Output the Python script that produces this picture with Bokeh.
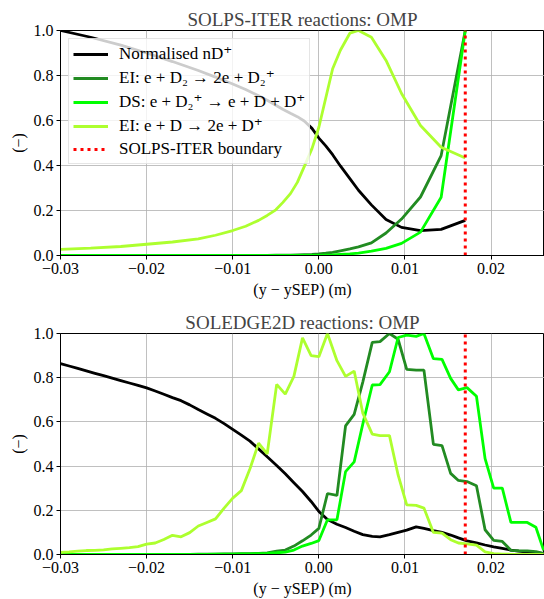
from bokeh.plotting import figure
from bokeh.layouts import column
from bokeh.models import FixedTicker, Range1d, Legend, LegendItem
from bokeh.embed import file_html
from bokeh.resources import INLINE

# ---------------- data ----------------
solps_x = [-0.0300, -0.0265, -0.0230, -0.0200, -0.0170, -0.0140, -0.0120, -0.0100, -0.0085, -0.0070,
           -0.0060, -0.0050, -0.0042, -0.0033, -0.0025, -0.0017, -0.0008, 0.0000, 0.0008, 0.0016,
           0.0025, 0.0036, 0.0046, 0.0061, 0.0078, 0.0096, 0.0118, 0.0142, 0.0170]
solps_n = [1.000, 0.970, 0.935, 0.900, 0.862, 0.822, 0.793, 0.762, 0.738, 0.710,
           0.690, 0.668, 0.650, 0.632, 0.617, 0.598, 0.565, 0.522, 0.487, 0.448,
           0.398, 0.342, 0.290, 0.225, 0.160, 0.125, 0.111, 0.116, 0.156]
solps_ei_d2 = [0.000, 0.000, 0.000, 0.000, 0.000, 0.000, 0.000, 0.001, 0.001, 0.001,
               0.001, 0.002, 0.002, 0.002, 0.003, 0.004, 0.005, 0.007, 0.010, 0.014,
               0.021, 0.029, 0.038, 0.056, 0.100, 0.162, 0.260, 0.444, 1.000]
solps_ds = [0.000, 0.000, 0.000, 0.000, 0.000, 0.000, 0.000, 0.000, 0.000, 0.000,
            0.000, 0.000, 0.000, 0.000, 0.000, 0.001, 0.001, 0.001, 0.002, 0.003,
            0.005, 0.007, 0.011, 0.019, 0.032, 0.054, 0.104, 0.259, 1.000]
solps_ei_d = [0.027, 0.033, 0.040, 0.050, 0.060, 0.074, 0.090, 0.111, 0.130, 0.156,
              0.178, 0.203, 0.235, 0.275, 0.325, 0.395, 0.475, 0.570, 0.700, 0.830,
              0.912, 0.988, 1.000, 0.970, 0.867, 0.720, 0.578, 0.481, 0.433]

soledge_x = [-0.0300, -0.0290, -0.0280, -0.0270, -0.0260, -0.0250, -0.0240, -0.0230, -0.0220, -0.0210,
             -0.0200, -0.0190, -0.0180, -0.0170, -0.0160, -0.0150, -0.0140, -0.0130, -0.0120, -0.0110,
             -0.0100, -0.0090, -0.0080, -0.0070, -0.0060, -0.0049, -0.0039, -0.0029, -0.0019, -0.0009,
             0.0000, 0.0010, 0.0021, 0.0031, 0.0041, 0.0051, 0.0062, 0.0071, 0.0082, 0.0092,
             0.0102, 0.0113, 0.0122, 0.0133, 0.0143, 0.0153, 0.0162, 0.0172, 0.0183, 0.0193,
             0.0203, 0.0213, 0.0223, 0.0232, 0.0242, 0.0252, 0.0261]
soledge_n = [0.864, 0.853, 0.842, 0.831, 0.820, 0.809, 0.798, 0.787, 0.776, 0.765,
             0.754, 0.740, 0.725, 0.710, 0.696, 0.677, 0.656, 0.636, 0.616, 0.592,
             0.566, 0.540, 0.513, 0.478, 0.442, 0.403, 0.365, 0.325, 0.285, 0.240,
             0.195, 0.158, 0.137, 0.122, 0.105, 0.090, 0.082, 0.080, 0.090, 0.100,
             0.110, 0.125, 0.118, 0.108, 0.100, 0.088, 0.075, 0.062, 0.053, 0.043,
             0.035, 0.028, 0.020, 0.015, 0.011, 0.008, 0.004]
soledge_ei_d2 = [0.000, 0.000, 0.000, 0.000, 0.000, 0.000, 0.000, 0.000, 0.000, 0.000,
                 0.000, 0.001, 0.001, 0.001, 0.001, 0.001, 0.002, 0.002, 0.002, 0.003,
                 0.003, 0.004, 0.004, 0.005, 0.007, 0.015, 0.020, 0.038, 0.062, 0.088,
                 0.118, 0.276, 0.267, 0.582, 0.634, 0.780, 0.960, 0.963, 1.000, 0.974,
                 0.838, 0.834, 0.834, 0.498, 0.493, 0.367, 0.335, 0.330, 0.311, 0.112,
                 0.064, 0.059, 0.019, 0.017, 0.016, 0.013, 0.005]
soledge_ds = [0.000, 0.000, 0.000, 0.000, 0.000, 0.000, 0.000, 0.000, 0.000, 0.000,
              0.000, 0.000, 0.000, 0.000, 0.001, 0.001, 0.001, 0.001, 0.002, 0.002,
              0.002, 0.003, 0.003, 0.004, 0.005, 0.008, 0.011, 0.020, 0.038, 0.050,
              0.063, 0.157, 0.157, 0.375, 0.419, 0.590, 0.767, 0.769, 0.827, 0.982,
              0.993, 0.987, 1.000, 0.886, 0.883, 0.797, 0.745, 0.755, 0.716, 0.434,
              0.300, 0.300, 0.145, 0.145, 0.145, 0.123, 0.019]
soledge_ei_d = [0.010, 0.012, 0.015, 0.018, 0.019, 0.021, 0.025, 0.028, 0.031, 0.036,
                0.047, 0.052, 0.068, 0.087, 0.080, 0.099, 0.129, 0.145, 0.161, 0.210,
                0.255, 0.289, 0.388, 0.504, 0.455, 0.770, 0.726, 0.806, 0.980, 0.900,
                0.895, 1.000, 0.877, 0.806, 0.830, 0.640, 0.545, 0.538, 0.538, 0.360,
                0.225, 0.222, 0.210, 0.100, 0.097, 0.067, 0.052, 0.048, 0.042, 0.012,
                0.004, 0.002, 0.001, 0.000, 0.000, 0.000, 0.000]

solps_boundary = 0.017
boundary_y = [0.0, 1.0]

x_ticks = [-0.03, -0.02, -0.01, 0.0, 0.01, 0.02]
x_tick_labels = ["\u22120.03", "\u22120.02", "\u22120.01", "0.00", "0.01", "0.02"]
y_ticks = [0.0, 0.2, 0.4, 0.6, 0.8, 1.0]
y_tick_labels = ["0.0", "0.2", "0.4", "0.6", "0.8", "1.0"]

series_labels = ["Normalised nD\u207a",
                 "EI: e + D\u2082 \u2192 2e + D\u2082\u207a",
                 "DS: e + D\u2082\u207a \u2192 e + D + D\u207a",
                 "EI: e + D \u2192 2e + D\u207a",
                 "SOLPS-ITER boundary"]
series_colors = ["black", "#228b22", "#00ff00", "#adff2f"]
boundary_color = "red"

titles = ["SOLPS-ITER reactions: OMP", "SOLEDGE2D reactions: OMP"]
x_label = "(y \u2212 ySEP) (m)"
y_label = "(\u2212)"

FONT = "'Liberation Serif', 'DejaVu Serif', serif"


def make_fig(title, height, top_border, bottom_border):
    p = figure(width=544, height=height, output_backend="svg", toolbar_location=None,
               x_range=Range1d(-0.03, 0.0262), y_range=Range1d(0.0, 1.0),
               min_border_left=60, min_border_right=0,
               min_border_top=top_border, min_border_bottom=bottom_border,
               title=title)
    p.title.align = "center"
    p.title.text_font = FONT
    p.title.text_font_size = "19px"
    p.title.text_font_style = "normal"
    p.title.standoff = 2
    p.outline_line_color = "black"
    p.outline_line_width = 1
    p.outline_line_alpha = 1
    p.background_fill_color = "white"
    p.border_fill_color = "white"

    p.xaxis.ticker = FixedTicker(ticks=x_ticks)
    p.xaxis.major_label_overrides = dict(zip(x_ticks, x_tick_labels))
    p.yaxis.ticker = FixedTicker(ticks=y_ticks)
    p.yaxis.major_label_overrides = dict(zip(y_ticks, y_tick_labels))
    p.xaxis.axis_label = x_label
    p.yaxis.axis_label = y_label
    for ax in (p.xaxis, p.yaxis):
        ax.axis_line_color = "black"
        ax.major_tick_line_color = "black"
        ax.major_tick_out = 4
        ax.major_tick_in = 0
        ax.minor_tick_line_color = None
        ax.major_label_text_font = FONT
        ax.major_label_text_font_size = "16px"
        ax.major_label_text_color = "black"
        ax.major_label_standoff = 3
        ax.axis_label_text_font = FONT
        ax.axis_label_text_font_size = "16px"
        ax.axis_label_text_font_style = "normal"
        ax.axis_label_text_color = "black"
        ax.axis_label_standoff = 4
    for g in (p.xgrid, p.ygrid):
        g.grid_line_color = "#b0b0b0"
        g.grid_line_width = 0.8
        g.grid_line_alpha = 1.0
    return p


LW = 2.8

# ---------- top: SOLPS-ITER ----------
p1 = make_fig(titles[0], 300, 30, 45)
r_n = p1.line(solps_x, solps_n, line_color=series_colors[0], line_width=LW)
r_d2 = p1.line(solps_x, solps_ei_d2, line_color=series_colors[1], line_width=LW)
r_ds = p1.line(solps_x, solps_ds, line_color=series_colors[2], line_width=LW)
r_d = p1.line(solps_x, solps_ei_d, line_color=series_colors[3], line_width=LW)
r_b = p1.line([solps_boundary, solps_boundary], boundary_y, line_color=boundary_color,
              line_width=3, line_dash="3 4")

legend = Legend(items=[LegendItem(label=series_labels[0], renderers=[r_n]),
                       LegendItem(label=series_labels[1], renderers=[r_d2]),
                       LegendItem(label=series_labels[2], renderers=[r_ds]),
                       LegendItem(label=series_labels[3], renderers=[r_d]),
                       LegendItem(label=series_labels[4], renderers=[r_b])],
                location="top_left")
legend.label_text_font = FONT
legend.label_text_font_size = "17px"
legend.label_text_color = "black"
legend.glyph_width = 35
legend.glyph_height = 20
legend.label_height = 20
legend.label_standoff = 11
legend.spacing = 3
legend.padding = 4
legend.margin = 8
legend.background_fill_color = "white"
legend.background_fill_alpha = 0.8
legend.border_line_color = "#cccccc"
legend.border_line_width = 1
p1.add_layout(legend)

# ---------- bottom: SOLEDGE2D ----------
p2 = make_fig(titles[1], 299, 33, 42)
p2.line(soledge_x, soledge_n, line_color=series_colors[0], line_width=LW)
p2.line(soledge_x, soledge_ei_d2, line_color=series_colors[1], line_width=LW)
p2.line(soledge_x, soledge_ds, line_color=series_colors[2], line_width=LW)
p2.line(soledge_x, soledge_ei_d, line_color=series_colors[3], line_width=LW)
p2.line([solps_boundary, solps_boundary], boundary_y, line_color=boundary_color,
        line_width=3, line_dash="3 4")

layout = column(p1, p2, spacing=0)
open("out.html", "w").write(file_html(layout, INLINE))
